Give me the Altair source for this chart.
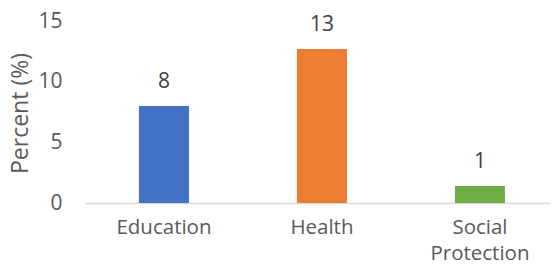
import altair as alt
import pandas as pd

categories = ["Education", "Health", "Social Protection"]
values = [8.0, 12.7, 1.4]
colors = ["#4472C4", "#ED7D31", "#70AD47"]

df = pd.DataFrame({"cat": categories, "val": values})

FONT = "Open Sans"
GREY = "#595959"
FS = 21

x = alt.X("cat:N", sort=categories, title=None,
          scale=alt.Scale(paddingInner=0.6835, paddingOuter=0.3133, align=0.545),
          axis=alt.Axis(labelAngle=0, ticks=False, domainColor="#d9d9d9", domainWidth=1.5,
                        labelFont=FONT, labelFontSize=20.5, labelColor=GREY,
                        labelPadding=14, labelLineHeight=26,
                        labelExpr="split(datum.label, ' ')"))
y = alt.Y("val:Q", title="Percent (%)",
          scale=alt.Scale(domain=[0, 15], nice=False),
          axis=alt.Axis(values=[0, 5, 10, 15], grid=False, domain=False, ticks=False,
                        labelFont=FONT, labelFontSize=FS, labelColor=GREY, labelPadding=23,
                        titleFont=FONT, titleFontSize=23, titleColor=GREY, titleFontWeight="normal",
                        titleX=-58, titleY=92, titleAngle=-90, titleBaseline="alphabetic"))

bars = alt.Chart(df).mark_bar().encode(
    x=x, y=y,
    color=alt.Color("cat:N", scale=alt.Scale(domain=categories, range=colors), legend=None),
)
labels = alt.Chart(df).mark_text(font=FONT, fontSize=FS, color="#404040",
                                 baseline="alphabetic", dy=-18).encode(
    x=alt.X("cat:N", sort=categories),
    y="val:Q",
    text=alt.Text("val:Q", format=".0f"),
)

chart = (bars + labels).properties(
    width=465, height=182,
    autosize=alt.AutoSizeParams(type="none"),
    padding={"left": 77, "top": 13, "right": 0, "bottom": 60},
).configure_view(stroke=None)

chart.save("out.html", embed_options={"renderer": "svg", "actions": False})
